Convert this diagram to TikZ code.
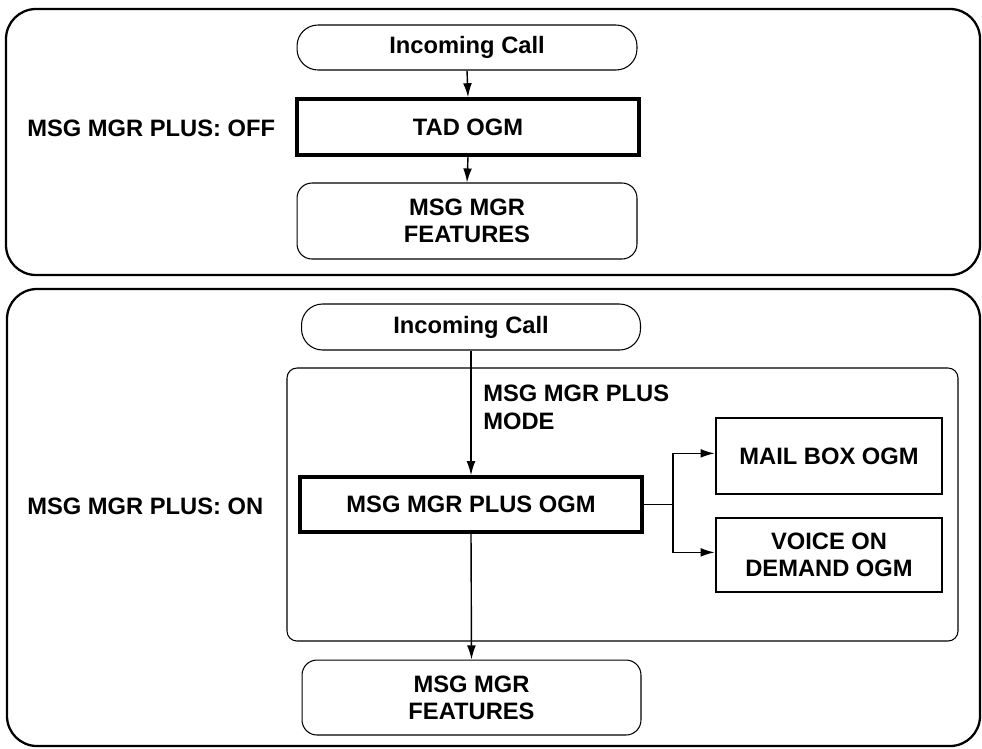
\documentclass[tikz,border=0pt]{standalone}
\usepackage{fontspec}
\setmainfont{Liberation Sans}
\usetikzlibrary{arrows.meta}
\begin{document}
\begin{tikzpicture}[x=0.02cm,y=-0.02cm,
  every node/.style={font=\fontsize{13.5}{15.5}\selectfont\bfseries, align=center, inner sep=0pt},
  startbox/.style={draw, line width=0.6pt, rounded corners=0.42cm},
  featbox/.style={draw, line width=0.6pt, rounded corners=0.3cm},
  thickbox/.style={draw, line width=2pt},
  plainbox/.style={draw, line width=1.6pt},
  outerbox/.style={draw, line width=1.3pt, rounded corners=0.6cm},
  innerbox/.style={draw, line width=0.6pt, rounded corners=0.2cm},
  arr/.style={line width=0.8pt, -{Latex[length=8pt,width=5pt]}},
  ln/.style={line width=0.8pt}]
\useasboundingbox (0,0) rectangle (982,748);
% outer frames
\draw[outerbox] (6,9) rectangle (980,275);
\draw[outerbox] (7,289) rectangle (980,746);
\draw[innerbox] (287,368) rectangle (958,641);
% top diagram
\node[startbox, minimum width=6.8cm, minimum height=0.9cm] (in1) at (467,47.5) {Incoming Call};
\node[thickbox, minimum width=6.84cm, minimum height=1.12cm] (tad) at (468,127) {TAD OGM};
\node[featbox, minimum width=6.8cm, minimum height=1.52cm] (f1) at (467,221) {MSG MGR\\FEATURES};
\node[anchor=west] (loff) at (27,128) {MSG MGR PLUS: OFF};
\draw[arr] (in1.south) -- (tad.north);
\draw[arr] (tad.south) -- (f1.north);
% bottom diagram
\node[startbox, minimum width=6.78cm, minimum height=0.92cm] (in2) at (471,327) {Incoming Call};
\node[thickbox, minimum width=6.84cm, minimum height=1.1cm] (ogm) at (471,504.5) {MSG MGR PLUS OGM};
\node[plainbox, minimum width=4.52cm, minimum height=1.52cm] (mail) at (829,456) {MAIL BOX OGM};
\node[plainbox, minimum width=4.52cm, minimum height=1.48cm] (voice) at (829,555) {VOICE ON\\DEMAND OGM};
\node[featbox, minimum width=6.78cm, minimum height=1.5cm] (f2) at (471.5,697.5) {MSG MGR\\FEATURES};
\node[anchor=west] (lon) at (27,506) {MSG MGR PLUS: ON};
\node[anchor=north west, align=left] (mode) at (483,385) {MSG MGR PLUS\\MODE};
\coordinate (br) at (673,504.5);
\draw[arr] (in2.south) -- (ogm.north);
\draw[arr] (ogm.south) -- (f2.north);
\draw[ln] (ogm.east) -- (br);
\draw[arr] (br) |- ([yshift=1.5pt]mail.west);
\draw[arr] (br) |- ([yshift=1.5pt]voice.west);
\end{tikzpicture}
\end{document}
